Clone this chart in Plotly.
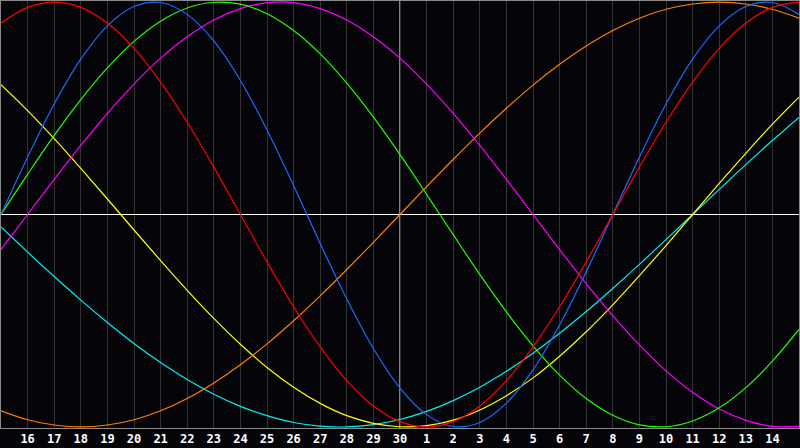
import plotly.graph_objects as go

# Day positions (0 = 15th of previous month, 15 = 30th, 30 = 15th of next month)
positions = list(range(31))
tick_positions = list(range(1, 30))
tick_labels = [str(d) for d in range(16, 31)] + [str(d) for d in range(1, 15)]

# Cycle values at each day position (-1 .. 1)
red = [0.901, 0.975, 1.000, 0.975, 0.901, 0.782, 0.623, 0.434, 0.223, 0.000, -0.223, -0.434, -0.623, -0.782, -0.901, -0.975,
       -1.000, -0.975, -0.901, -0.782, -0.623, -0.434, -0.223, 0.000, 0.223, 0.434, 0.623, 0.782, 0.901, 0.975, 1.000]
blue = [0.000, 0.270, 0.520, 0.731, 0.888, 0.979, 0.998, 0.942, 0.817, 0.631, 0.398, 0.136, -0.136, -0.398, -0.631, -0.817,
        -0.942, -0.998, -0.979, -0.888, -0.731, -0.520, -0.270, 0.000, 0.270, 0.520, 0.731, 0.888, 0.979, 0.998, 0.942]
green = [0.000, 0.189, 0.372, 0.541, 0.690, 0.815, 0.910, 0.972, 0.999, 0.990, 0.945, 0.866, 0.756, 0.618, 0.458, 0.282,
         0.095, -0.095, -0.282, -0.458, -0.618, -0.756, -0.866, -0.945, -0.990, -0.999, -0.972, -0.910, -0.815, -0.690, -0.541]
magenta = [-0.165, 0.000, 0.165, 0.325, 0.476, 0.614, 0.736, 0.837, 0.916, 0.969, 0.997, 0.997, 0.969, 0.916, 0.837, 0.736,
           0.614, 0.476, 0.325, 0.165, 0.000, -0.165, -0.325, -0.476, -0.614, -0.736, -0.837, -0.916, -0.969, -0.997, -0.997]
orange = [-0.924, -0.966, -0.991, -1.000, -0.991, -0.966, -0.924, -0.866, -0.793, -0.707, -0.609, -0.500, -0.383, -0.259, -0.131, 0.000,
          0.131, 0.259, 0.383, 0.500, 0.609, 0.707, 0.793, 0.866, 0.924, 0.966, 0.991, 1.000, 0.991, 0.966, 0.924]
yellow = [0.611, 0.489, 0.357, 0.217, 0.073, -0.073, -0.217, -0.357, -0.489, -0.611, -0.720, -0.813, -0.889, -0.947, -0.983, -0.999,
          -0.994, -0.968, -0.920, -0.853, -0.769, -0.667, -0.552, -0.425, -0.288, -0.146, 0.000, 0.146, 0.288, 0.425, 0.552]
cyan = [-0.059, -0.177, -0.292, -0.403, -0.508, -0.607, -0.697, -0.777, -0.846, -0.903, -0.947, -0.979, -0.996, -1.000, -0.989, -0.965,
        -0.927, -0.876, -0.813, -0.738, -0.653, -0.559, -0.457, -0.348, -0.235, -0.118, 0.000, 0.118, 0.235, 0.348, 0.457]

series = [
    ("cyan", cyan, "#00f0f0"),
    ("yellow", yellow, "#ffff00"),
    ("orange", orange, "#ff8000"),
    ("magenta", magenta, "#ff00ff"),
    ("green", green, "#22ff00"),
    ("blue", blue, "#1a6cff"),
    ("red", red, "#ff0000"),
]

fig = go.Figure()
for name, vals, color in series:
    fig.add_trace(go.Scatter(x=positions, y=vals, mode="lines", name=name,
                             line=dict(color=color, width=1.2, shape="spline", smoothing=1.0),
                             hoverinfo="skip"))

fig.add_shape(type="line", xref="x", yref="paper", x0=15, x1=15, y0=0, y1=1,
              line=dict(color="#ffffff", width=1), layer="below")

fig.update_layout(
    width=800, height=448,
    margin=dict(l=1, r=1, t=1, b=20),
    paper_bgcolor="#050509",
    plot_bgcolor="#050509",
    showlegend=False,
    xaxis=dict(range=[0, 30], tickvals=tick_positions, ticktext=tick_labels,
               showgrid=True, gridcolor="#333333", gridwidth=1, zeroline=False,
               showline=True, mirror=True, linecolor="#8a8a8a", linewidth=1,
               ticks="", tickfont=dict(family="DejaVu Sans Mono", size=12, color="#ffffff", weight="bold"),
               fixedrange=True),
    yaxis=dict(range=[-1.005, 1.005], showgrid=False, showticklabels=False,
               zeroline=True, zerolinecolor="#ffffff", zerolinewidth=1,
               showline=True, mirror=True, linecolor="#8a8a8a", linewidth=1,
               ticks="", fixedrange=True),
)

fig.write_html("out.html", config={"displayModeBar": False},
               post_script="document.body.style.margin='0';document.body.style.padding='0';"
                           "document.body.style.background='#050509';document.body.style.overflow='hidden';")
